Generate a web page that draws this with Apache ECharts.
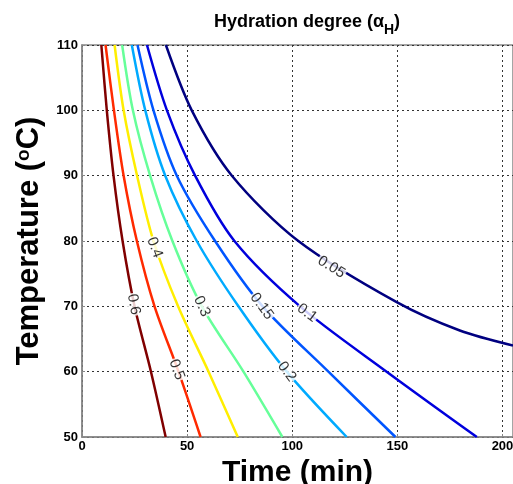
<!DOCTYPE html>
<html lang="en" style="height: 100%">

<head>
  <meta charset="utf-8">
</head>

<body style="height: 100%; margin: 0; background: #fff">
  <div id="container" style="width: 513px; height: 484px"></div>

  <script type="text/javascript" src="https://cdn.jsdelivr.net/npm/echarts@6/dist/echarts.min.js"></script>

  <script type="text/javascript">
    // contour levels (hydration degree) and their lines, [time (min), temperature (C)]
    var levels = ['0.05', '0.1', '0.15', '0.2', '0.3', '0.4', '0.5', '0.6'];

    var c005 = [[39.9, 110], [52.2, 100], [71.3, 90], [102.9, 80], [149.9, 70.6], [179.7, 66.3], [205, 64]];
    var c010 = [[30.9, 110], [40.4, 100], [53.8, 90], [72.5, 80], [103.7, 70], [144.9, 60], [187.8, 50]];
    var c015 = [[26.4, 110], [34.0, 100], [45.1, 90], [63.3, 80], [85.9, 70], [117.2, 60], [149.1, 50]];
    var c020 = [[23.7, 110], [30.1, 100], [39.6, 90], [54.6, 80], [74.4, 70], [97.4, 60], [125.9, 50]];
    var c030 = [[19.1, 110], [24.2, 100], [32.4, 90], [43.0, 80], [57.0, 70], [76.8, 60], [95.3, 50]];
    var c040 = [[15.5, 110], [19.8, 100], [26.2, 90], [34.0, 80], [45.7, 70], [60.2, 60], [74.1, 50]];
    var c050 = [[11.2, 110], [15.2, 100], [19.8, 90], [26.1, 80], [34.5, 70], [45.9, 60], [56.4, 50]];
    var c060 = [[9.2, 110], [11.8, 100], [15.0, 90], [19.3, 80], [25.0, 70], [32.8, 60], [39.8, 50]];
    var contours = [c005, c010, c015, c020, c030, c040, c050, c060];

    // where each level's inline label sits on its line
    var labelAt = [[118.6, 76], [107, 69], [85.5, 70], [97.4, 60], [57, 70], [34.5, 79], [45, 60.3], [24.6, 70.3]];

    var colors = ['#000080', '#0000dd', '#0055ff', '#00aaff', '#66ff99', '#ffee00', '#ff2a00', '#800000'];

    var dom = document.getElementById('container');
    var myChart = echarts.init(dom, null, { renderer: 'canvas' });
    var font = '"Liberation Sans", Arial, sans-serif';

    var series = contours.map(function (c, i) {
      return {
        name: levels[i],
        type: 'line',
        data: c,
        smooth: 0.3,
        showSymbol: false,
        clip: true,
        lineStyle: { color: colors[i], width: 2.5 },
        z: 2
      };
    });

    series.push({
      type: 'scatter',
      name: 'labels',
      symbolSize: 1,
      itemStyle: { color: 'rgba(0,0,0,0)' },
      z: 5,
      data: labelAt.map(function (p, i) {
        return { value: p, name: levels[i] };
      }),
      label: {
        show: true,
        position: 'inside',
        formatter: '{b}',
        color: '#000',
        fontSize: 15,
        fontFamily: font,
        backgroundColor: '#fff',
        padding: [0, 1]
      }
    });

    var option = {
      animation: false,
      backgroundColor: '#fff',
      title: {
        text: '{n|Hydration degree (α}{s|H}{n|)}',
        left: 302,
        top: 8,
        textAlign: 'center',
        textStyle: {
          rich: {
            n: { fontSize: 18, fontWeight: 'bold', fontFamily: font, color: '#000', padding: [0, 0, 6, 0], verticalAlign: 'bottom' },
            s: { fontSize: 14, fontWeight: 'bold', fontFamily: font, color: '#000', verticalAlign: 'bottom' }
          }
        }
      },
      grid: {
        left: 82,
        right: 0,
        top: 45,
        bottom: 47,
        outerBoundsMode: 'none',
        show: true,
        borderColor: '#888',
        borderWidth: 1.5
      },
      xAxis: {
        type: 'value',
        min: 0,
        max: 205,
        interval: 50,
        name: 'Time (min)',
        nameLocation: 'middle',
        nameGap: 12,
        nameTextStyle: { fontSize: 30, fontWeight: 'bold', fontFamily: font, color: '#000' },
        axisLine: { lineStyle: { color: '#888', width: 1.5 } },
        axisTick: { inside: true, length: 3, lineStyle: { color: '#888' } },
        axisLabel: { margin: 3, fontSize: 13, fontWeight: 'bold', fontFamily: font, color: '#000', showMaxLabel: false },
        splitLine: { lineStyle: { color: '#333', type: [2, 3], width: 1 } }
      },
      yAxis: {
        type: 'value',
        min: 50,
        max: 110,
        interval: 10,
        name: 'Temperature ({sup|o}C)',
        nameLocation: 'middle',
        nameGap: 33,
        nameTextStyle: {
          fontSize: 31, fontWeight: 'bold', fontFamily: font, color: '#000',
          rich: {
            sup: { fontSize: 19, fontWeight: 'bold', fontFamily: font, color: '#000', verticalAlign: 'top' }
          }
        },
        axisLine: { show: true, lineStyle: { color: '#888', width: 1.5 } },
        axisTick: { show: true, inside: true, length: 3, lineStyle: { color: '#888' } },
        axisLabel: { margin: 4, fontSize: 13, fontWeight: 'bold', fontFamily: font, color: '#000' },
        splitLine: { lineStyle: { color: '#333', type: [2, 3], width: 1 } }
      },
      series: series
    };

    myChart.setOption(option);

    // turn each label along its line, using the line's own slope in pixels
    function angleAt(line, T) {
      for (var i = 0; i < line.length - 1; i++) {
        if (line[i][1] >= T && line[i + 1][1] <= T) {
          var p1 = myChart.convertToPixel({ gridIndex: 0 }, line[i]);
          var p2 = myChart.convertToPixel({ gridIndex: 0 }, line[i + 1]);
          return -Math.atan2(p2[1] - p1[1], p2[0] - p1[0]) * 180 / Math.PI;
        }
      }
      return 0;
    }

    var labelData = labelAt.map(function (p, i) {
      return { value: p, name: levels[i], label: { rotate: angleAt(contours[i], p[1]) } };
    });
    myChart.setOption({ series: [{ name: 'labels', data: labelData }] });

    window.addEventListener('resize', myChart.resize);
  </script>
</body>

</html>
